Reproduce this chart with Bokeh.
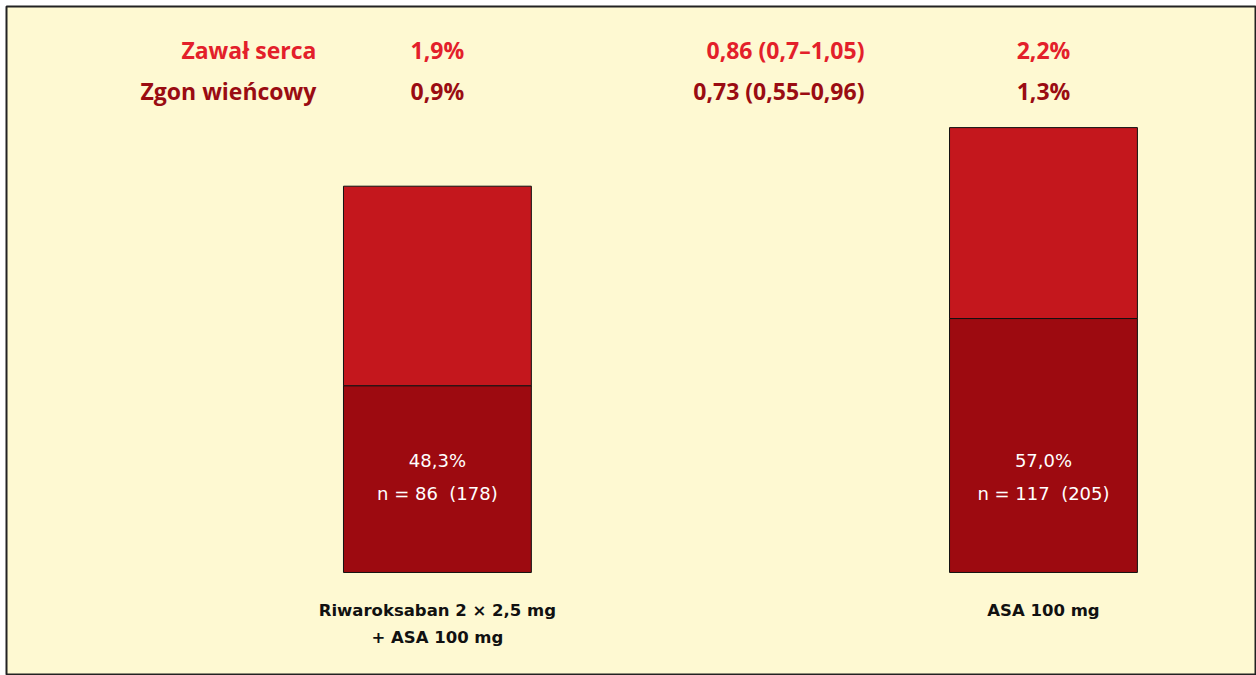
from bokeh.plotting import figure
from bokeh.models import Range1d, ColumnDataSource
from bokeh.core.properties import value
from bokeh.embed import file_html
from bokeh.resources import INLINE

# ---- data ----
groups_line1 = ["Riwaroksaban 2 × 2,5 mg", "ASA 100 mg"]
groups_line2 = ["+ ASA 100 mg", ""]
n_total = [178, 205]
n_event = [86, 117]
pct_event = ["48,3%", "57,0%"]
mi_rate = ["1,9%", "2,2%"]
cd_rate = ["0,9%", "1,3%"]
row_labels = ["Zawał serca", "Zgon wieńcowy"]
hr_values = ["0,86 (0,7–1,05)", "0,73 (0,55–0,96)"]

BG = "#FEF9D2"
RED = "#C4171D"
DARK = "#9D0A10"
LBL_RED = "#E3202A"
LBL_DARK = "#9A0C12"

xs = [0, 1]
p = figure(width=1256, height=675, output_backend="svg", toolbar_location=None,
           x_range=Range1d(-0.711, 1.3515), y_range=Range1d(-47.47, 260.8),
           min_border=0, min_border_left=6, min_border_top=6,
           background_fill_color=BG, border_fill_color="white")
p.axis.visible = False
p.grid.visible = False
p.outline_line_color = "#222222"
p.outline_line_width = 2

src = ColumnDataSource(dict(x=xs, total=n_total, ev=n_event, pct=pct_event,
                            lab=[f"n = {e}\u00a0\u00a0({t})" for e, t in zip(n_event, n_total)],
                            g1=groups_line1, g2=groups_line2,
                            mi=mi_rate, cd=cd_rate))

W = 0.31
p.vbar(x="x", bottom="ev", top="total", width=W, source=src,
       fill_color=RED, line_color="#111111", line_width=1)
p.vbar(x="x", bottom=0, top="ev", width=W, source=src,
       fill_color=DARK, line_color="#111111", line_width=1)

inner_font = value("DejaVu Sans")
p.text(x="x", y=51.6, text="pct", source=src, text_color="white",
       text_font=inner_font, text_font_size="18px", text_align="center",
       text_baseline="middle")
p.text(x="x", y=36.4, text="lab", source=src, text_color="white",
       text_font=inner_font, text_font_size="18px", text_align="center",
       text_baseline="middle")

p.text(x="x", y=-17.5, text="g1", source=src, text_color="#111111",
       text_font=inner_font, text_font_size="16.5px", text_align="center",
       text_baseline="middle", text_font_style="bold")
p.text(x="x", y=-30, text="g2", source=src, text_color="#111111",
       text_font=inner_font, text_font_size="16.5px", text_align="center",
       text_baseline="middle", text_font_style="bold")

hdr_font = value("Open Sans")
row_y = [240.6, 221.7]
row_col = [LBL_RED, LBL_DARK]
rates = [mi_rate, cd_rate]
for i in range(2):
    p.text(x=[-0.1997], y=[row_y[i]], text=[row_labels[i]], text_color=row_col[i],
           text_font=hdr_font, text_font_size="23px", text_font_style="bold",
           text_align="right", text_baseline="middle")
    p.text(x=xs, y=[row_y[i]] * 2, text=rates[i], text_color=row_col[i],
           text_font=hdr_font, text_font_size="23px", text_font_style="bold",
           text_align="center", text_baseline="middle")
    p.text(x=[0.7046], y=[row_y[i]], text=[hr_values[i]], text_color=row_col[i],
           text_font=hdr_font, text_font_size="23px", text_font_style="bold",
           text_align="right", text_baseline="middle")

open("out.html", "w").write(file_html(p, INLINE))
